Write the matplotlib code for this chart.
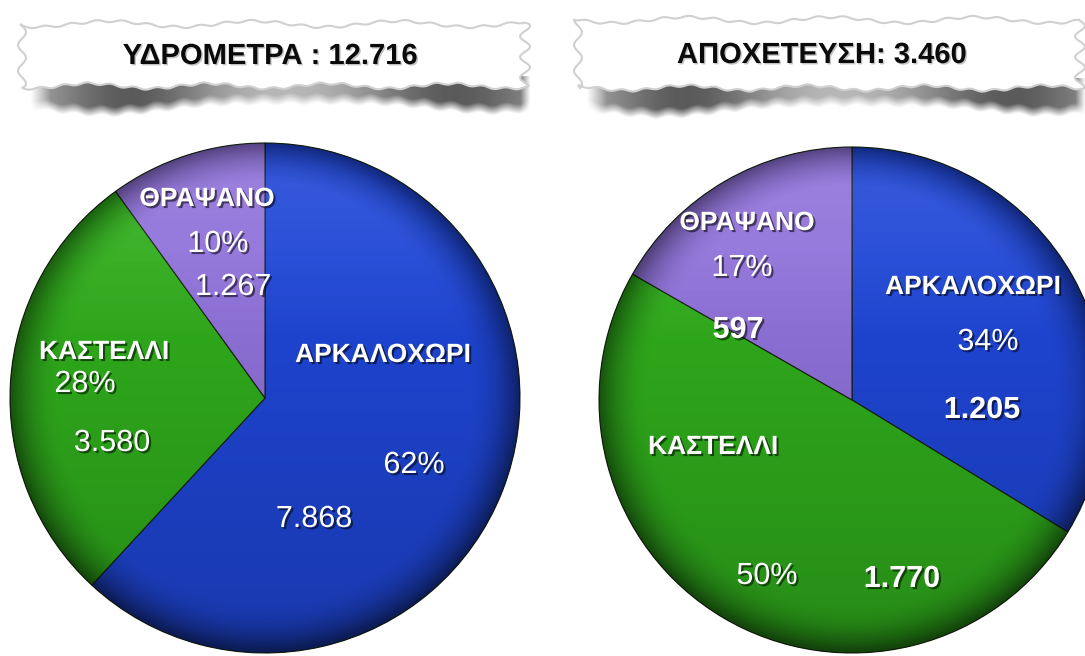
import numpy as np
import matplotlib.pyplot as plt
import matplotlib.patheffects as pe
from matplotlib.patches import Circle, Polygon

plt.rcParams['font.family'] = ['Liberation Sans', 'DejaVu Sans']

W, H = 1085, 656

# dedomena
towns = ['ΑΡΚΑΛΟΧΩΡΙ', 'ΚΑΣΤΕΛΛΙ', 'ΘΡΑΨΑΝΟ']
ydrometra = [7868, 3580, 1267]
ydrometra_pct = ['62%', '28%', '10%']
apoxeteusi = [1205, 1770, 597]
apoxeteusi_pct = ['34%', '50%', '17%']
titles = ['ΥΔΡΟΜΕΤΡΑ : 12.716', 'ΑΠΟΧΕΤΕΥΣΗ: 3.460']
colors = ['#1f46d6', '#30ad1c', '#9072da']


def py(y):
    # pixel apo panw -> data y
    return H - y


def fmt(v):
    return f'{v:,}'.replace(',', '.')


fig = plt.figure(figsize=(W / 100, H / 100), dpi=100)
ax = fig.add_axes([0, 0, 1, 1])

shadow = [pe.withSimplePatchShadow(offset=(1.5, -1.5), shadow_rgbFace='black', alpha=0.55)]


def banner(x0, x1, y0, y1, text, tx):
    # skia apo katw, pio skoteini aristera kai deksia
    sx0, sx1, sy0, sy1 = x0 + 8, x1 + 6, y1 - 10, y1 + 40
    nx, ny = 400, 80
    gx = np.linspace(sx0, sx1, nx)
    gy = np.linspace(sy0, sy1, ny)
    X, Y = np.meshgrid(gx, gy)
    u = (X - sx0) / (sx1 - sx0)
    fx = 0.35 + 0.6 * (np.exp(-((u - 0.2) / 0.18) ** 2) + np.exp(-((u - 0.85) / 0.2) ** 2))
    fx = np.clip(fx, 0, 0.95)
    fx *= np.clip(u / 0.04, 0, 1) * np.clip((1 - u) / 0.02, 0, 1)
    bottom = y1 + 18 + 12 * np.exp(-((u - 0.15) / 0.16) ** 2) + 10 * np.exp(-((u - 0.92) / 0.15) ** 2) \
        + 1.5 * np.sin(X / 4.3)
    fy = np.clip((bottom - Y) / 10, 0, 1)
    img = np.zeros((ny, nx, 4))
    img[..., :3] = 0.32
    img[..., 3] = fx * fy
    ax.imshow(img, extent=(sx0, sx1, py(sy1), py(sy0)), origin='upper',
              interpolation='bilinear', zorder=1)
    # xarti
    xt = np.linspace(x0, x1, 200)
    t_edge = y0 + 3 * np.sin(xt / 23.0) + 1.2 * np.sin(xt / 4.1)
    b_edge = y1 + 2.5 * np.sin(xt / 19.0) + 1.2 * np.sin(xt / 3.7)
    yl = np.linspace(y0, y1, 40)
    l_edge = x0 + 4 * np.sin(yl / 4.1)
    r_edge = x1 + 5 * np.sin(yl / 3.3)
    pts = np.vstack([np.c_[xt, py(t_edge)], np.c_[r_edge, py(yl)],
                     np.c_[xt[::-1], py(b_edge[::-1])], np.c_[l_edge[::-1], py(yl[::-1])]])
    ax.add_patch(Polygon(pts, closed=True, facecolor='white', edgecolor='#d0d0d0',
                         linewidth=1.5, zorder=2))
    ax.text(tx, py((y0 + y1) / 2 + 1), text, ha='center', va='center', fontsize=21,
            fontweight='bold', color='#0a0a0a', zorder=3,
            path_effects=[pe.withSimplePatchShadow(offset=(1, -1), shadow_rgbFace='#888888', alpha=0.5)])


def pie(values, cx, cy, r):
    ax.pie(values, colors=colors, startangle=90, counterclock=False,
           center=(cx, py(cy)), radius=r,
           wedgeprops=dict(edgecolor='#15220f', linewidth=0.8))
    n = 300
    gx, gy = np.meshgrid(np.linspace(-1, 1, n), np.linspace(-1, 1, n))
    d = np.sqrt(gx ** 2 + gy ** 2)
    ext = (cx - r, cx + r, py(cy) - r, py(cy) + r)
    # skoteino pros ta katw kai stin akri
    img = np.zeros((n, n, 4))
    img[..., 3] = np.clip(0.12 * (0.6 - gy) + 0.45 * np.clip((d - 0.8) / 0.2, 0, 1) ** 2, 0, 0.6)
    im = ax.imshow(img, extent=ext, origin='lower', interpolation='bilinear', zorder=3)
    im.set_clip_path(Circle((cx, py(cy)), r, transform=ax.transData))
    # lampsi pano
    hl = np.ones((n, n, 4))
    hl[..., 3] = 0.12 * np.clip((gy - 0.2) / 0.8, 0, 1) * np.clip(1 - np.clip((d - 0.85) / 0.15, 0, 1), 0, 1)
    im2 = ax.imshow(hl, extent=ext, origin='lower', interpolation='bilinear', zorder=3)
    im2.set_clip_path(Circle((cx, py(cy)), r, transform=ax.transData))


def label(x, y, s, size, bold):
    ax.text(x, py(y), s, ha='center', va='center', fontsize=size, color='white',
            fontweight='bold' if bold else 'normal', path_effects=shadow, zorder=5)


banner(22, 525, 24, 86, titles[0], 270)
banner(578, 1080, 20, 88, titles[1], 822)

pie(ydrometra, 265, 398, 255)
pie(apoxeteusi, 852, 400, 253)

# etiketes aristeri pita
pos_left = {
    'ΑΡΚΑΛΟΧΩΡΙ': [(383, 355), (414, 465), (314, 519)],
    'ΚΑΣΤΕΛΛΙ': [(104, 352), (85, 384), (112, 443)],
    'ΘΡΑΨΑΝΟ': [(207, 199), (218, 244), (233, 287)],
}
for i, t in enumerate(towns):
    p = pos_left[t]
    label(*p[0], t, 19, True)
    label(*p[1], ydrometra_pct[i], 22, False)
    label(*p[2], fmt(ydrometra[i]), 22, False)

# etiketes deksia pita
pos_right = {
    'ΑΡΚΑΛΟΧΩΡΙ': [(973, 287), (988, 342), (982, 410)],
    'ΚΑΣΤΕΛΛΙ': [(713, 447), (767, 576), (902, 579)],
    'ΘΡΑΨΑΝΟ': [(747, 223), (742, 268), (738, 330)],
}
for i, t in enumerate(towns):
    p = pos_right[t]
    label(*p[0], t, 19, True)
    label(*p[1], apoxeteusi_pct[i], 22, False)
    label(*p[2], fmt(apoxeteusi[i]), 22, True)

ax.set_xlim(0, W)
ax.set_ylim(0, H)
ax.set_aspect('auto')
ax.axis('off')

fig.savefig('out.png', dpi=100, facecolor='white')
